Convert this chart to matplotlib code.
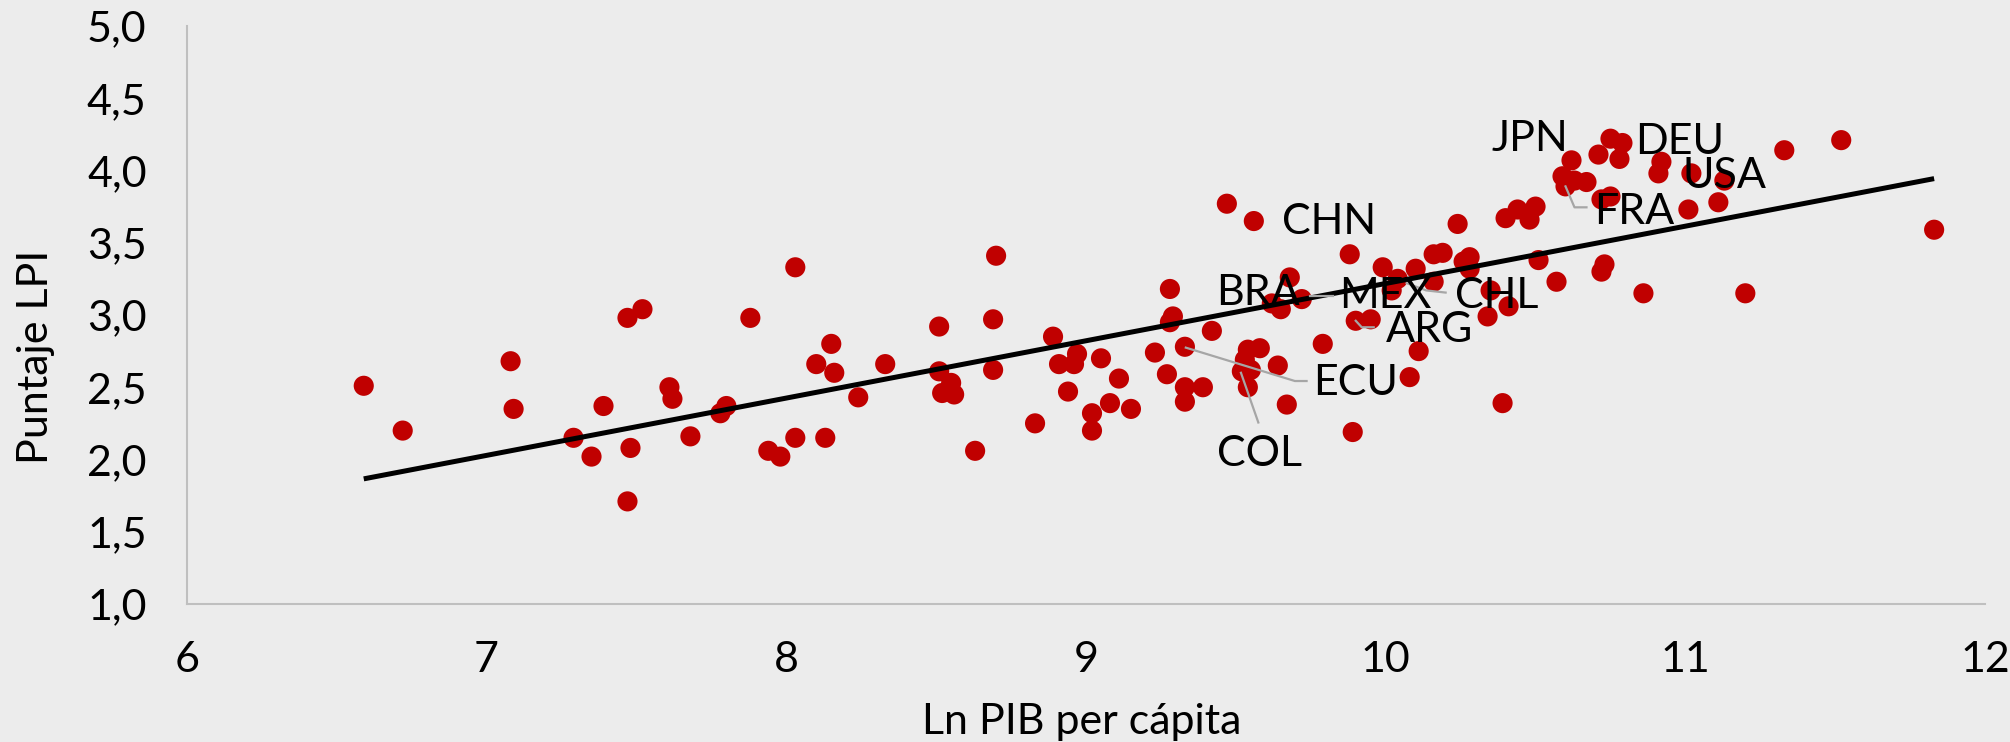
import numpy as np
import matplotlib
matplotlib.use("Agg")
import matplotlib.pyplot as plt
from matplotlib.ticker import FuncFormatter

# Ln GDP per capita vs LPI score, one point per country
ln_pib = [
    6.59, 6.72, 7.08, 7.09, 7.29, 7.35, 7.39, 7.47, 7.52, 7.47, 7.48, 7.61, 7.62, 7.68,
    7.78, 7.80, 7.88, 7.94, 7.98, 8.03, 8.03, 8.13, 8.10, 8.15, 8.16, 8.24, 8.33,
    8.51, 8.51, 8.55, 8.52, 8.56, 8.63, 8.69, 8.69, 8.70, 8.83, 8.89, 8.91, 8.96, 8.97,
    8.94, 9.02, 9.02, 9.05, 9.08, 9.11, 9.15, 9.23, 9.28, 9.29, 9.28, 9.33, 9.27, 9.33,
    9.39, 9.33, 9.42, 9.47, 9.56, 9.54, 9.58, 9.53, 9.52, 9.55, 9.54, 9.64, 9.67, 9.68,
    9.62, 9.65, 9.72, 9.79, 9.88, 9.90, 9.95, 9.89, 9.99, 10.04, 10.02, 10.10, 10.16,
    10.11, 10.08, 10.16, 10.19, 10.28, 10.26, 10.28, 10.51, 10.73, 10.72, 10.57, 10.86,
    11.20, 10.35, 10.41, 10.34, 10.39, 10.24, 10.40, 10.44, 10.48, 10.50, 10.62, 10.59,
    10.60, 10.63, 10.67, 10.71, 10.75, 10.79, 10.78, 10.72, 10.75, 10.92, 10.91, 11.02,
    11.13, 11.11, 11.01, 11.33, 11.52, 11.83,
]
lpi = [
    2.51, 2.20, 2.68, 2.35, 2.15, 2.02, 2.37, 2.98, 3.04, 1.71, 2.08, 2.50, 2.42, 2.16,
    2.32, 2.37, 2.98, 2.06, 2.02, 2.15, 3.33, 2.15, 2.66, 2.80, 2.60, 2.43, 2.66,
    2.92, 2.61, 2.53, 2.46, 2.45, 2.06, 2.62, 2.97, 3.41, 2.25, 2.85, 2.66, 2.66, 2.73,
    2.47, 2.32, 2.20, 2.70, 2.39, 2.56, 2.35, 2.74, 3.18, 2.99, 2.95, 2.78, 2.59, 2.50,
    2.50, 2.40, 2.89, 3.77, 3.65, 2.76, 2.77, 2.69, 2.61, 2.62, 2.50, 2.65, 2.38, 3.26,
    3.08, 3.04, 3.11, 2.80, 3.42, 2.96, 2.97, 2.19, 3.33, 3.25, 3.17, 3.32, 3.23,
    2.75, 2.57, 3.42, 3.43, 3.40, 3.37, 3.32, 3.38, 3.35, 3.30, 3.23, 3.15,
    3.15, 3.17, 3.06, 2.99, 2.39, 3.63, 3.67, 3.73, 3.66, 3.75, 4.07, 3.96,
    3.89, 3.93, 3.92, 4.11, 4.22, 4.19, 4.08, 3.80, 3.82, 4.06, 3.98, 3.98,
    3.93, 3.78, 3.73, 4.14, 4.21, 3.59,
]

# country labels: text position, leader line (x list, y list) or None
etiquetas = ["CHN", "JPN", "DEU", "USA", "FRA", "CHL", "BRA", "MEX", "ARG", "ECU", "COL"]
etiq_x = [9.81, 10.48, 10.98, 11.13, 10.83, 10.37, 9.575, 10.0, 10.145, 9.90, 9.578]
etiq_y = [3.64, 4.22, 4.20, 3.96, 3.715, 3.13, 3.155, 3.13, 2.896, 2.53, 2.036]
lineas = [
    None,
    None,
    None,
    None,
    ([10.60, 10.63, 10.67], [3.89, 3.745, 3.745]),
    ([10.07, 10.135, 10.20], [3.22, 3.17, 3.155]),
    None,
    ([9.747, 9.825], [3.13, 3.13]),
    ([9.90, 9.92, 9.96], [2.96, 2.915, 2.915]),
    ([9.333, 9.697, 9.736], [2.774, 2.543, 2.543]),
    ([9.517, 9.575], [2.60, 2.256]),
]

fondo = "#ececec"
plt.rcParams["font.family"] = ["Lato", "DejaVu Sans"]

fig = plt.figure(figsize=(20.1, 7.42), dpi=100, facecolor=fondo)
ax = fig.add_axes([0.093, 0.186, 0.8946, 0.779])
ax.set_facecolor(fondo)

x = np.array(ln_pib)
y = np.array(lpi)
ax.scatter(x, y, s=210, color="#c00000", edgecolors="none", zorder=3)

# tendencia lineal
b, a = np.polyfit(x, y, 1)
xs = np.array([x.min(), x.max()])
ax.plot(xs, a + b * xs, color="black", lw=3.6, zorder=4, solid_capstyle="butt")

for i, lab in enumerate(etiquetas):
    if lineas[i] is not None:
        ax.plot(lineas[i][0], lineas[i][1], color="#a6a6a6", lw=1.6, zorder=5)
    ax.text(etiq_x[i], etiq_y[i], lab, fontsize=31, ha="center", va="center", zorder=6)

ax.set_xlim(6, 12)
ax.set_ylim(1, 5)
ax.set_xticks(range(6, 13))
ax.set_yticks(np.arange(1.0, 5.01, 0.5))
ax.yaxis.set_major_formatter(FuncFormatter(lambda v, p: f"{v:.1f}".replace(".", ",")))
ax.tick_params(length=0, labelsize=31, pad=29)
ax.tick_params(axis="x", pad=27)
for s in ["top", "right"]:
    ax.spines[s].set_visible(False)
for s in ["left", "bottom"]:
    ax.spines[s].set_color("#bfbfbf")
    ax.spines[s].set_linewidth(1.5)

fig.text(0.538, 0.0108, "Ln PIB per cápita", fontsize=31, ha="center", va="baseline")
fig.text(0.018, 1 - 357 / 742, "Puntaje LPI", fontsize=31, rotation=90,
         ha="center", va="center")

fig.savefig("out.png", dpi=100, facecolor=fondo)
